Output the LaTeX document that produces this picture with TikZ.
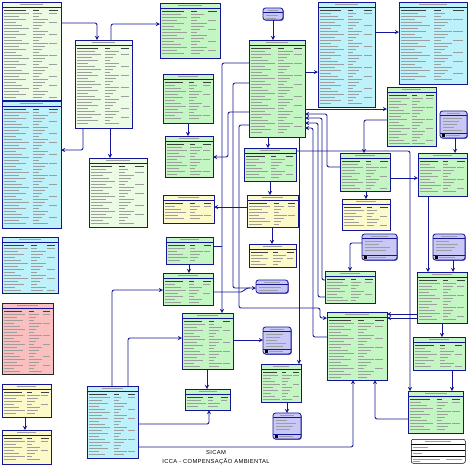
\documentclass[tikz,border=0pt]{standalone}
\usepackage{fontspec}
\setmainfont{Liberation Sans}
\newfontfamily\titlefont[LetterSpace=6]{Liberation Sans}
\usetikzlibrary{arrows,shadows,positioning}

\definecolor{erblue}{RGB}{20,20,150}
\definecolor{erpale}{RGB}{236,252,228}
\definecolor{ergreen}{RGB}{196,246,196}
\definecolor{ercyan}{RGB}{190,242,250}
\definecolor{eryellow}{RGB}{252,250,200}
\definecolor{erpink}{RGB}{250,192,192}
\definecolor{erlav}{RGB}{200,200,246}

%% table: name, x1, y1, x2, y2, options
\newcommand{\ertable}[6]{%
  \pgfmathsetmacro\tbw{#4-#2}%
  \pgfmathsetmacro\tbh{#5-#3}%
  \node[tbl,#6,minimum width=\tbw pt,minimum height=\tbh pt] at (#2,#3) (#1) {};
  \draw[txt] ({#2+0.3*\tbw},#3+2.6) -- ({#2+0.7*\tbw},#3+2.6);
  \draw[sep] (#2,#3+5) -- (#4,#3+5);
  \draw[txthd] (#2+2,#3+8) -- ({#2+0.4*\tbw},#3+8);
  \draw[txthd] ({#2+0.52*\tbw},#3+8) -- ({#2+0.62*\tbw},#3+8);
  \draw[txthd] ({#2+0.8*\tbw},#3+8) -- ({#2+0.95*\tbw},#3+8);
  \pgfmathtruncatemacro\tbn{(\tbh-11)/3}%
  \foreach \i in {1,...,\tbn}{%
    \pgfmathsetmacro\tby{#3+8+3*\i}%
    \pgfmathsetmacro\tla{0.2+0.22*mod(\i*7+#2,5)/4}%
    \pgfmathsetmacro\tlb{0.1+0.16*mod(\i*3+#3,4)/3}%
    \pgfmathtruncatemacro\tkk{mod(\i*5+#2,7)}%
    \draw[txt] (#2+2,\tby) -- ++({\tla*\tbw},0);
    \draw[txt] ({#2+0.52*\tbw},\tby) -- ++({\tlb*\tbw},0);
    \ifnum\tkk<2 \draw[txt] ({#2+0.8*\tbw},\tby) -- ++({0.14*\tbw},0);\fi
  }%
}

%% view: name, x1, y1, x2, y2
\newcommand{\erent}[5]{%
  \pgfmathsetmacro\tbw{#4-#2}%
  \pgfmathsetmacro\tbh{#5-#3}%
  \node[ent,minimum width=\tbw pt,minimum height=\tbh pt] at (#2,#3) (#1) {};
  \draw[txt] ({#2+0.25*\tbw},#3+2.5) -- ({#2+0.75*\tbw},#3+2.5);
  \draw[sep] (#2,#3+4.5) -- (#4,#3+4.5);
  \ifdim\tbh pt>20pt
    \pgfmathtruncatemacro\tbn{(\tbh-11.5)/3}%
    \draw[sep] (#2,#5-5) -- (#4,#5-5);
    \fill[black] (#2+1.5,#5-4.3) rectangle (#2+4.5,#5-1.3);
    \draw[txt] (#2+6,#5-2.8) -- ++({0.5*\tbw},0);
  \else
    \pgfmathtruncatemacro\tbn{(\tbh-6)/3}%
  \fi
  \foreach \i in {1,...,\tbn}{%
    \pgfmathsetmacro\tby{#3+4.5+3*\i}%
    \pgfmathsetmacro\tla{0.4+0.3*mod(\i*3+#2,4)/3}%
    \draw[txt] (#2+3,\tby) -- ++({\tla*\tbw},0);
  }%
}

\begin{document}
\begin{tikzpicture}[x=1pt, y=-1pt]
%% the figure uses pixel coordinates, y pointing down
\tikzstyle{tbl}=[anchor=north west,draw=erblue,line width=0.8pt,inner sep=0pt,outer sep=0pt,drop shadow={shadow xshift=0.8pt,shadow yshift=-0.8pt,fill=erblue,opacity=0.7}]
\tikzstyle{ent}=[tbl,fill=erlav,rounded corners=2.5pt]
\tikzstyle{txt}=[draw=black!38,line width=0.7pt]
\tikzstyle{txthd}=[draw=black!75,line width=0.9pt]
\tikzstyle{sep}=[draw=erblue,line width=0.4pt]
\tikzstyle{ref}=[->,>=stealth,draw=erblue,line width=0.85pt,rounded corners=2pt]
\fill[white] (0,0) rectangle (469,467);
\useasboundingbox (0,0) rectangle (469,467);

%% left column
\ertable{t1}{2}{2}{61}{100}{fill=erpale}
\ertable{t2}{2}{101}{61}{228}{fill=ercyan}
\ertable{t5}{2}{237}{58}{293}{fill=ercyan}
\ertable{t6}{2}{303}{53}{374}{fill=erpink,draw=black!85}
\ertable{t7}{2}{384}{51}{417}{fill=eryellow}
\ertable{t8}{2}{430}{51}{464}{fill=eryellow}
%% second column
\ertable{t3}{75}{40}{132}{128}{fill=erpale}
\ertable{t4}{89}{158}{147}{227}{fill=erpale}
\ertable{t9}{87}{386}{138}{458}{fill=ercyan}
%% middle
\ertable{t10}{160}{3}{220}{58}{fill=ergreen}
\ertable{t13}{163}{74}{213}{123}{fill=ergreen}
\ertable{t14}{165}{136}{213}{177}{fill=ergreen}
\ertable{t31}{163}{195}{214}{223}{fill=eryellow}
\ertable{t34}{166}{237}{213}{264}{fill=ergreen}
\ertable{t35}{163}{273}{213}{305}{fill=ergreen}
\ertable{t37}{182}{313}{233}{369}{fill=ergreen}
\ertable{t39}{185}{389}{230}{410}{fill=ergreen}
\ertable{t12}{249}{40}{305}{137}{fill=ergreen}
\ertable{t15}{244}{148}{296}{181}{fill=ergreen}
\ertable{t32}{247}{195}{298}{227}{fill=eryellow}
\ertable{t33}{249}{244}{296}{267}{fill=eryellow}
\ertable{t40}{261}{364}{301}{402}{fill=ergreen}
%% right side
\ertable{t16}{318}{2}{375}{107}{fill=ercyan}
\ertable{t17}{399}{2}{467}{84}{fill=ercyan}
\ertable{t18}{387}{87}{436}{146}{fill=ergreen}
\ertable{t20}{340}{153}{390}{191}{fill=ergreen}
\ertable{t21}{418}{153}{467}{196}{fill=ergreen}
\ertable{t22}{342}{199}{390}{230}{fill=eryellow}
\ertable{t25}{325}{271}{375}{303}{fill=ergreen}
\ertable{t26}{327}{312}{387}{380}{fill=ergreen}
\ertable{t27}{417}{272}{467}{323}{fill=ergreen}
\ertable{t28}{413}{337}{465}{370}{fill=ergreen}
\ertable{t29}{408}{391}{463}{433}{fill=ergreen}
%% views
\erent{e11}{263}{8}{283}{20}
\erent{e19}{440}{111}{467}{138}
\erent{e23}{362}{234}{397}{260}
\erent{e24}{433}{234}{465}{260}
\erent{e36}{256}{280}{288}{293}
\erent{e38}{263}{327}{291}{354}
\erent{e41}{273}{413}{301}{439}

%% legend box
\node[draw=black,line width=0.5pt,fill=white,rounded corners=2pt,minimum width=54pt,minimum height=24pt,inner sep=0pt,anchor=north west] at (411,439) (lgd) {};
\draw[txt] (425,441.5) -- (451,441.5);
\draw[draw=black,line width=0.4pt] (411,444) -- (465,444);
\draw[txt] (413,447) -- (428,447);
\draw[draw=black,line width=0.4pt] (411,450) -- (465,450);
\draw[txt] (413,453.5) -- (422,453.5);
\draw[draw=black,line width=0.4pt] (411,456.5) -- (465,456.5);
\draw[txt] (413,459) -- (440,459) (446,459) -- (462,459);
\draw[txt] (413,461.8) -- (420,461.8);

%% references
\draw[ref] (t1.east |- 0,23) -| (t3.north -| 97,0);
\draw[ref] (t3.north -| 111,0) |- (t10.west |- 0,24);
\draw[ref] (t3.south -| 83,0) |- (t2.east |- 0,150);
\draw[ref] (t3.south -| 110,0) -- (t4.north -| 110,0);
\draw[ref] (t7.south -| 25,0) -- (t8.north -| 25,0);
\draw[ref] (e11.south) -- (t12.north -| e11.south);
\draw[ref] (t12.west |- 0,63) -| (t37.north -| 222,0);
\coordinate (j1) at (222,246);
\draw[ref,-] (t34.east |- j1) -- (j1);
\draw[ref] (t12.west |- 0,83) -- (233,83) -- (233,288) -- (e36.west |- 0,288);
\draw[ref,-] (t35.east |- 0,292) -- (243,292) -- (246,288) -- (250,288);
\draw[ref] (t12.west |- 0,112) -- (228,112) -- (228,157) -- (t14.east |- 0,157);
\draw[ref] (t12.west |- 0,125) -- (239,125) -- (239,308) -- (320,308) -- (320,318) -- (t26.west |- 0,318);
\draw[ref] (t13.south -| 188,0) -- (t14.north -| 188,0);
\draw[ref] (t34.south -| 189,0) -- (t35.north -| 189,0);
\draw[ref] (t32.west |- 0,207) -- (t31.east |- 0,207);
\draw[ref] (t12.south -| 268,0) -- (t15.north -| 268,0);
\draw[ref] (t15.south -| 270,0) -- (t32.north -| 270,0);
\draw[ref] (t32.south -| 272,0) -- (t33.north -| 272,0);
\draw[ref] (t12.south -| 299,0) -- (t40.north -| 299,0);
\draw[ref] (t40.south -| 287,0) -- (e41.north -| 287,0);
\draw[ref] (t12.east |- 0,72) -- (t16.west |- 0,72);
\draw[ref] (t12.east |- 0,109) -- (t18.west |- 0,109);
\draw[ref] (t20.west |- 0,167) -- (327,167) |- (t12.east |- 0,114);
\draw[ref] (t25.west |- 0,280) -- (322,280) |- (t12.east |- 0,118);
\draw[ref] (t25.west |- 0,297) -- (318,297) |- (t12.east |- 0,123);
\draw[ref] (t26.west |- 0,337) -- (313,337) |- (t12.east |- 0,128);
\draw[ref] (t15.east |- 0,151) -| (t29.north -| 410,0);
\draw[ref] (t16.east |- 0,32) -- (t17.west |- 0,32);
\draw[ref] (t18.west |- 0,120) -| (t20.north -| 364,0);
\draw[ref] (t20.east |- 0,178) -- (t21.west |- 0,178);
\draw[ref] (t20.south -| 366,0) -- (t22.north -| 366,0);
\draw[ref] (e19.south -| 455,0) -- (t21.north -| 455,0);
\draw[ref] (t21.south -| 428,0) -- (t27.north -| 428,0);
\draw[ref] (e24.south -| 453,0) -- (t27.north -| 453,0);
\draw[ref] (e23.west |- 0,243) -| (t25.north -| 350,0);
\draw[ref] (t27.west |- 0,314) -- (t26.east |- 0,314);
\draw[ref] (t27.west |- 0,318) -- (t26.east |- 0,318);
\draw[ref] (t27.south -| 442,0) -- (t28.north -| 442,0);
\draw[ref] (t28.south -| 452,0) -- (t29.north -| 452,0);
\draw[ref] (t29.west |- 0,419) -| (t26.south -| 375,0);
\draw[ref] (t9.east |- 0,447) -| (t26.south -| 353,0);
\draw[ref] (t9.east |- 0,424) -| (t39.south -| 209,0);
\draw[ref] (t37.south -| 207,0) -- (t39.north -| 207,0);
\draw[ref] (t37.east |- 0,340) -- (e38.west |- 0,340);
\draw[ref] (t9.north -| 128,0) |- (t37.west |- 0,338);
\draw[ref] (t9.north -| 112,0) |- (t35.west |- 0,290);

%% title
\node[font=\titlefont\fontsize{5.8}{6.5}\selectfont] at (216,452.5) (ttl) {SICAM};
\node[font=\titlefont\fontsize{5.8}{6.5}\selectfont,below=-2.8pt of ttl] (sub) {ICCA - COMPENSAÇÃO AMBIENTAL};
\end{tikzpicture}
\end{document}
